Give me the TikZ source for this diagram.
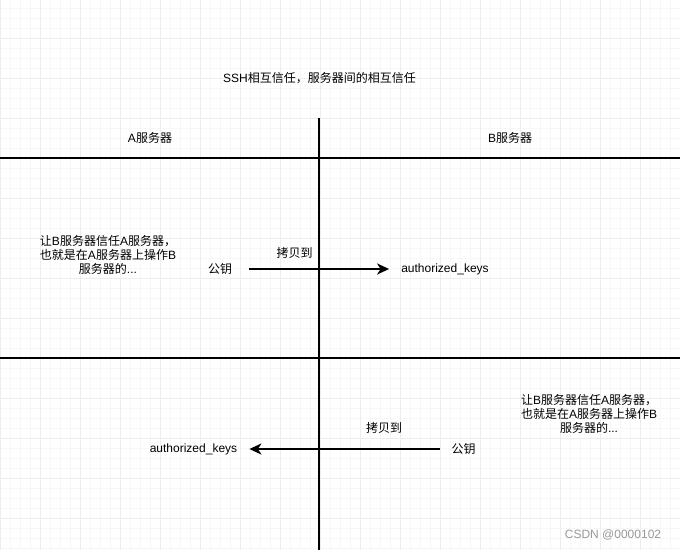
\documentclass[tikz,border=0pt]{standalone}
\usepackage{fontspec}
\setmainfont{Liberation Sans}
\newfontfamily\cjk{Noto Sans CJK SC}
\usetikzlibrary{arrows.meta,positioning}

\begin{document}
\begin{tikzpicture}[
    x=1pt, y=-1pt,
    txt/.style={inner sep=0pt, font=\fontsize{12}{14}\selectfont, align=center},
    divider/.style={line width=2pt},
    arr/.style={-{Stealth[length=12pt,width=11pt,inset=3.5pt]}, line width=2pt},
    minor/.style={draw=black!3, line width=0.6pt},
    major/.style={draw=black!7, line width=0.8pt}
  ]
    \useasboundingbox (0,0) rectangle (680,550);
    \fill[white] (0,0) rectangle (680,550);
    % background grid
    \foreach \x in {0,10,...,680} \draw[minor] (\x,0) -- (\x,550);
    \foreach \y in {8,18,...,548} \draw[minor] (0,\y) -- (680,\y);
    \foreach \x in {0,40,...,680} \draw[major] (\x,0) -- (\x,550);
    \foreach \y in {38,78,...,548} \draw[major] (0,\y) -- (680,\y);

    % dividers
    \coordinate (HL1) at (0,158);   \coordinate (HR1) at (680,158);
    \coordinate (HL2) at (0,357.5); \coordinate (HR2) at (680,357.5);
    \coordinate (VT) at (319,118);  \coordinate (VB) at (319,550);
    \draw[divider] (HL1) -- (HR1);
    \draw[divider] (HL2) -- (HR2);
    \draw[divider] (VT) -- (VB);

    % headings
    \node[txt] (title) at (319.5,78) {SSH{\cjk 相互信任，服务器间的相互信任}};
    \node[txt] (srvA) at (150,138) {A{\cjk 服务器}};
    \node[txt] (srvB) at (510,138) {B{\cjk 服务器}};

    % upper row: A -> B
    \node[txt] (noteA) at (108,254.5) {{\cjk 让}B{\cjk 服务器信任}A{\cjk 服务器，}\\
      {\cjk 也就是在}A{\cjk 服务器上操作}B\\{\cjk 服务器的}...};
    \node[txt] (pubA) at (220,269) {\cjk 公钥};
    \node[txt] (copyA) at (294.5,253) {\cjk 拷贝到};
    \node[txt] (akB) at (445,269) {authorized\_keys};
    \draw[arr, shorten <=17pt, shorten >=12pt] (pubA) -- (akB);

    % lower row: B -> A
    \node[txt] (noteB) at (589,413.5) {{\cjk 让}B{\cjk 服务器信任}A{\cjk 服务器，}\\
      {\cjk 也就是在}A{\cjk 服务器上操作}B\\{\cjk 服务器的}...};
    \node[txt] (copyB) at (384,428) {\cjk 拷贝到};
    \node[txt] (pubB) at (463.5,449) {\cjk 公钥};
    \node[txt] (akA) at (193.5,449) {authorized\_keys};
    \draw[arr, shorten <=11.5pt, shorten >=12pt] (pubB) -- (akA);

    % watermark
    \node[txt, text=black!40] (mark) at (613,535) {CSDN @0000102};
\end{tikzpicture}
\end{document}
